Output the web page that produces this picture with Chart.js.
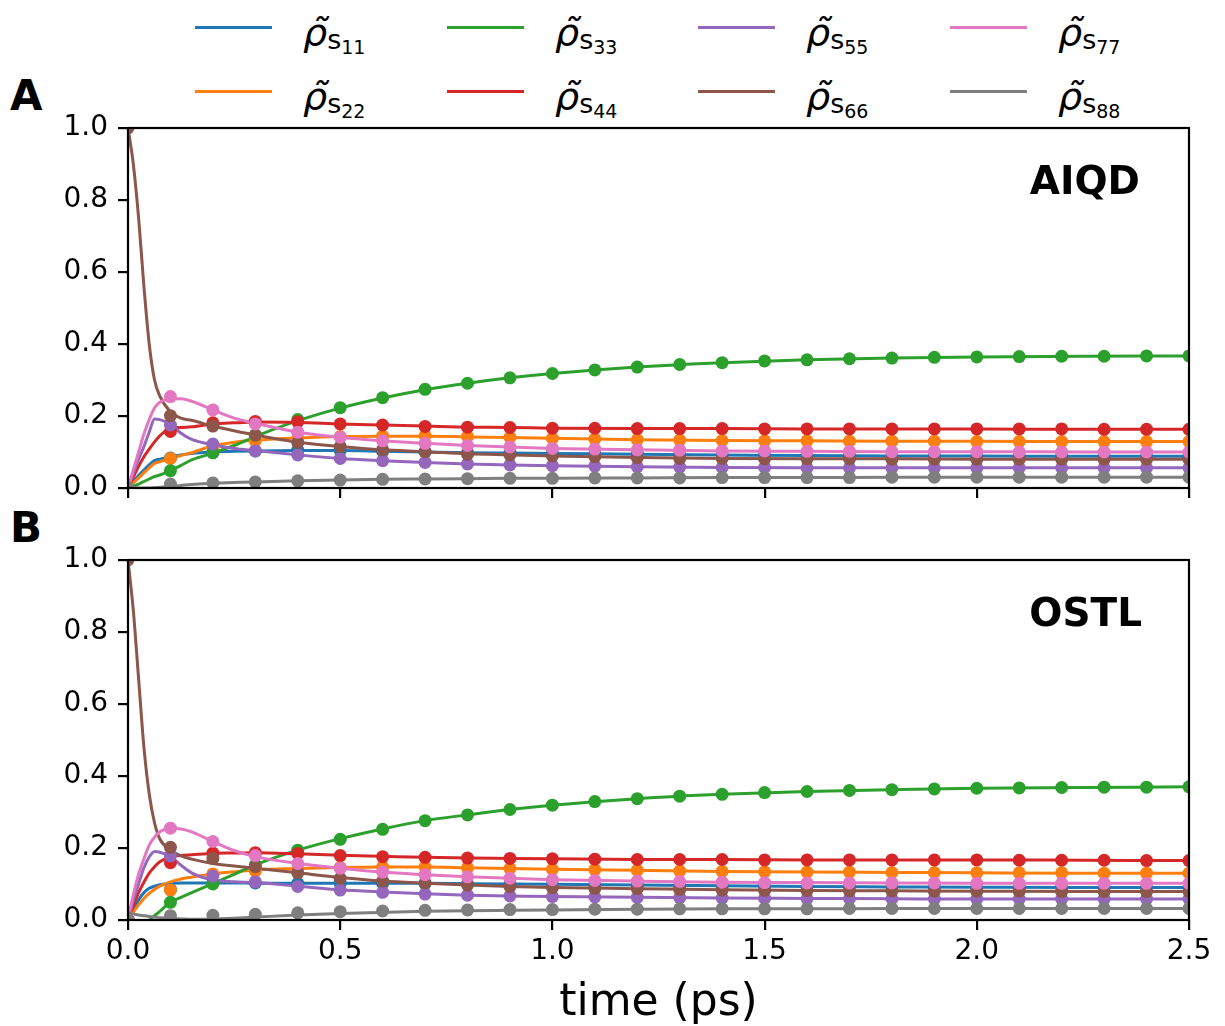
<!DOCTYPE html>
<html>
<head>
<meta charset="utf-8">
<script src="https://cdn.jsdelivr.net/npm/chart.js@4.4.0/dist/chart.umd.min.js"></script>
<style>
  body { margin: 0; background: #fff; font-family: 'DejaVu Sans', sans-serif; }
  #wrap { position: relative; width: 1225px; height: 1026px; overflow: hidden; }
  .panel { position: absolute; left: 0; }
  .letter { position: absolute; font-weight: bold; font-size: 42px; line-height: 42px; }
  .tag { position: absolute; font-weight: bold; font-size: 39px; line-height: 39px; text-align: right; }
  .leg-line { position: absolute; width: 77px; height: 3px; }
  .leg-text { position: absolute; font-size: 38px; line-height: 38px; white-space: nowrap; }
  .leg-text .rho { font-style: italic; }
  .leg-text .s { font-size: 27px; position: relative; top: 4px; }
  .leg-text .n { font-size: 19px; position: relative; top: 9px; }
</style>
</head>
<body>
<div id="wrap">
  <div id="legend"></div>
  <div class="letter" style="left:10px; top:75px;">A</div>
  <div class="letter" style="left:10px; top:507px;">B</div>
  <canvas id="chartA" class="panel" width="1225" height="400" style="top:110px;"></canvas>
  <canvas id="chartB" class="panel" width="1225" height="486" style="top:540px;"></canvas>
  <div class="tag" style="right:85px; top:161px;">AIQD</div>
  <div class="tag" style="right:83px; top:593px;">OSTL</div>
</div>
<script>
// time grids (ps)
const tDots = [0, 0.1, 0.2, 0.3, 0.4, 0.5, 0.6, 0.7, 0.8, 0.9, 1.0, 1.1, 1.2, 1.3, 1.4, 1.5, 1.6, 1.7, 1.8, 1.9, 2.0, 2.1, 2.2, 2.3, 2.4, 2.5];
const tLine = [0, 0.0125, 0.025, 0.0375, 0.05, 0.0625, 0.075, 0.1, 0.125, 0.15, 0.2, 0.25, 0.3, 0.4, 0.5, 0.6, 0.7, 0.8, 0.9, 1.0, 1.2, 1.4, 1.6, 1.8, 2.0, 2.25, 2.5];

const stateNames = ['11', '22', '33', '44', '55', '66', '77', '88'];
const stateColors = ['#1f77b4', '#ff7f0e', '#2ca02c', '#d62728', '#9467bd', '#8c564b', '#e377c2', '#7f7f7f'];
const xTicks = [0, 0.5, 1.0, 1.5, 2.0, 2.5];
const yTicks = [0, 0.2, 0.4, 0.6, 0.8, 1.0];

// panel A (AIQD) - continuous curves
const aLine11 = [0, 0.018, 0.035, 0.05, 0.064, 0.076, 0.080, 0.086, 0.092, 0.096, 0.100, 0.102, 0.103, 0.104, 0.104, 0.102, 0.100, 0.098, 0.097, 0.096, 0.094, 0.092, 0.090, 0.089, 0.089, 0.088, 0.088];
const aLine22 = [0, 0.014, 0.028, 0.042, 0.056, 0.068, 0.073, 0.082, 0.090, 0.098, 0.117, 0.127, 0.133, 0.139, 0.143, 0.144, 0.144, 0.142, 0.140, 0.138, 0.134, 0.132, 0.131, 0.130, 0.130, 0.129, 0.129];
const aLine33 = [0, 0.005, 0.011, 0.018, 0.025, 0.032, 0.036, 0.048, 0.063, 0.078, 0.097, 0.118, 0.143, 0.187, 0.222, 0.250, 0.273, 0.291, 0.306, 0.318, 0.336, 0.348, 0.356, 0.361, 0.364, 0.366, 0.367];
const aLine44 = [0, 0.03, 0.06, 0.087, 0.108, 0.128, 0.145, 0.166, 0.168, 0.170, 0.178, 0.181, 0.183, 0.182, 0.178, 0.175, 0.172, 0.169, 0.168, 0.166, 0.165, 0.165, 0.164, 0.164, 0.164, 0.163, 0.163];
const aLine55 = [0, 0.04, 0.08, 0.115, 0.155, 0.192, 0.19, 0.178, 0.152, 0.135, 0.12, 0.11, 0.104, 0.092, 0.082, 0.076, 0.071, 0.067, 0.064, 0.062, 0.059, 0.057, 0.056, 0.056, 0.056, 0.056, 0.056];
const aLine66 = [1.0, 0.9, 0.75, 0.56, 0.40, 0.30, 0.255, 0.212, 0.194, 0.188, 0.172, 0.159, 0.147, 0.127, 0.115, 0.106, 0.101, 0.095, 0.092, 0.089, 0.085, 0.082, 0.081, 0.081, 0.080, 0.080, 0.080];
const aLine77 = [0, 0.05, 0.10, 0.15, 0.19, 0.222, 0.238, 0.247, 0.248, 0.241, 0.217, 0.194, 0.18, 0.155, 0.141, 0.131, 0.124, 0.118, 0.114, 0.110, 0.106, 0.103, 0.102, 0.101, 0.101, 0.100, 0.100];
const aLine88 = [0, 0, 0, 0, 0, 0.001, 0.002, 0.004, 0.007, 0.010, 0.013, 0.015, 0.017, 0.020, 0.022, 0.024, 0.025, 0.026, 0.027, 0.027, 0.028, 0.029, 0.029, 0.030, 0.030, 0.030, 0.030];

// panel A (AIQD) - sampled points
const aDot11 = [0, 0.083, 0.098, 0.103, 0.105, 0.104, 0.102, 0.100, 0.098, 0.097, 0.096, 0.095, 0.094, 0.093, 0.092, 0.091, 0.090, 0.090, 0.089, 0.089, 0.089, 0.088, 0.088, 0.088, 0.088, 0.088];
const aDot22 = [0, 0.082, 0.115, 0.131, 0.138, 0.143, 0.144, 0.145, 0.143, 0.141, 0.138, 0.136, 0.134, 0.133, 0.132, 0.131, 0.131, 0.130, 0.130, 0.130, 0.129, 0.129, 0.129, 0.129, 0.129, 0.129];
const aDot33 = [0, 0.048, 0.098, 0.147, 0.190, 0.223, 0.251, 0.274, 0.291, 0.306, 0.318, 0.328, 0.336, 0.343, 0.348, 0.353, 0.356, 0.359, 0.361, 0.363, 0.364, 0.365, 0.366, 0.366, 0.367, 0.367];
const aDot44 = [0, 0.157, 0.181, 0.185, 0.184, 0.178, 0.175, 0.171, 0.169, 0.168, 0.166, 0.166, 0.165, 0.165, 0.165, 0.164, 0.164, 0.164, 0.164, 0.164, 0.164, 0.164, 0.164, 0.163, 0.163, 0.163];
const aDot55 = [0, 0.175, 0.122, 0.103, 0.092, 0.082, 0.076, 0.071, 0.067, 0.064, 0.062, 0.061, 0.059, 0.058, 0.057, 0.057, 0.056, 0.056, 0.056, 0.056, 0.056, 0.056, 0.056, 0.056, 0.056, 0.056];
const aDot66 = [1.0, 0.201, 0.172, 0.147, 0.126, 0.115, 0.106, 0.101, 0.094, 0.092, 0.089, 0.087, 0.084, 0.082, 0.082, 0.081, 0.081, 0.081, 0.080, 0.080, 0.080, 0.080, 0.080, 0.080, 0.080, 0.080];
const aDot77 = [0, 0.254, 0.217, 0.178, 0.155, 0.141, 0.131, 0.124, 0.118, 0.114, 0.110, 0.108, 0.106, 0.105, 0.103, 0.103, 0.102, 0.102, 0.101, 0.101, 0.101, 0.100, 0.100, 0.100, 0.100, 0.100];
const aDot88 = [0, 0.011, 0.014, 0.017, 0.020, 0.022, 0.024, 0.025, 0.026, 0.027, 0.027, 0.028, 0.028, 0.028, 0.029, 0.029, 0.029, 0.029, 0.030, 0.030, 0.030, 0.030, 0.030, 0.030, 0.030, 0.030];

// panel B (OSTL) - continuous curves
const bLine11 = [0, 0.03, 0.056, 0.076, 0.088, 0.094, 0.098, 0.102, 0.103, 0.103, 0.103, 0.103, 0.102, 0.102, 0.102, 0.102, 0.102, 0.101, 0.100, 0.099, 0.097, 0.095, 0.093, 0.092, 0.091, 0.090, 0.090];
const bLine22 = [0, 0.022, 0.042, 0.06, 0.074, 0.085, 0.094, 0.106, 0.114, 0.119, 0.128, 0.134, 0.139, 0.143, 0.146, 0.147, 0.147, 0.145, 0.143, 0.141, 0.138, 0.135, 0.133, 0.132, 0.131, 0.130, 0.130];
const bLine33 = [-0.06, -0.045, -0.03, -0.015, 0.0, 0.012, 0.024, 0.049, 0.063, 0.076, 0.101, 0.127, 0.153, 0.194, 0.226, 0.253, 0.276, 0.292, 0.307, 0.319, 0.337, 0.349, 0.357, 0.362, 0.366, 0.368, 0.370];
const bLine44 = [0, 0.04, 0.076, 0.105, 0.13, 0.148, 0.162, 0.176, 0.179, 0.181, 0.185, 0.186, 0.187, 0.184, 0.180, 0.177, 0.174, 0.172, 0.171, 0.170, 0.168, 0.168, 0.167, 0.167, 0.167, 0.166, 0.165];
const bLine55 = [0, 0.055, 0.10, 0.145, 0.175, 0.19, 0.188, 0.176, 0.152, 0.131, 0.111, 0.106, 0.104, 0.094, 0.084, 0.078, 0.073, 0.069, 0.067, 0.065, 0.063, 0.061, 0.060, 0.059, 0.058, 0.058, 0.058];
const bLine66 = [1.0, 0.86, 0.67, 0.48, 0.35, 0.27, 0.225, 0.195, 0.178, 0.169, 0.157, 0.150, 0.144, 0.131, 0.118, 0.108, 0.102, 0.097, 0.093, 0.090, 0.087, 0.084, 0.082, 0.081, 0.080, 0.079, 0.079];
const bLine77 = [0, 0.07, 0.127, 0.17, 0.208, 0.23, 0.245, 0.255, 0.253, 0.245, 0.218, 0.193, 0.176, 0.157, 0.144, 0.133, 0.126, 0.120, 0.116, 0.112, 0.108, 0.105, 0.104, 0.103, 0.102, 0.102, 0.102];
const bLine88 = [0.02, 0.017, 0.014, 0.012, 0.010, 0.008, 0.006, 0.004, 0.003, 0.002, 0.003, 0.005, 0.008, 0.014, 0.018, 0.021, 0.024, 0.026, 0.027, 0.028, 0.030, 0.031, 0.031, 0.032, 0.032, 0.032, 0.032];

// panel B (OSTL) - sampled points
const bDot11 = [0, 0.085, 0.103, 0.103, 0.102, 0.102, 0.102, 0.101, 0.100, 0.099, 0.098, 0.097, 0.096, 0.095, 0.094, 0.094, 0.093, 0.093, 0.092, 0.092, 0.091, 0.091, 0.091, 0.090, 0.090, 0.090];
const bDot22 = [0, 0.083, 0.128, 0.136, 0.142, 0.146, 0.147, 0.147, 0.145, 0.143, 0.141, 0.140, 0.138, 0.136, 0.135, 0.134, 0.133, 0.133, 0.132, 0.132, 0.131, 0.131, 0.131, 0.130, 0.130, 0.130];
const bDot33 = [0, 0.049, 0.100, 0.153, 0.194, 0.224, 0.252, 0.276, 0.292, 0.307, 0.319, 0.329, 0.337, 0.344, 0.349, 0.354, 0.357, 0.360, 0.362, 0.364, 0.366, 0.367, 0.368, 0.369, 0.369, 0.370];
const bDot44 = [0, 0.159, 0.186, 0.187, 0.185, 0.179, 0.176, 0.174, 0.172, 0.171, 0.170, 0.169, 0.168, 0.168, 0.168, 0.167, 0.167, 0.167, 0.167, 0.167, 0.167, 0.166, 0.166, 0.166, 0.165, 0.165];
const bDot55 = [0, 0.178, 0.122, 0.106, 0.093, 0.083, 0.077, 0.072, 0.069, 0.067, 0.065, 0.064, 0.063, 0.062, 0.061, 0.060, 0.059, 0.059, 0.059, 0.058, 0.058, 0.058, 0.058, 0.058, 0.058, 0.058];
const bDot66 = [1.0, 0.202, 0.171, 0.148, 0.131, 0.116, 0.108, 0.103, 0.097, 0.093, 0.090, 0.088, 0.087, 0.085, 0.083, 0.082, 0.082, 0.081, 0.081, 0.080, 0.080, 0.080, 0.079, 0.079, 0.079, 0.079];
const bDot77 = [0, 0.255, 0.218, 0.179, 0.157, 0.144, 0.133, 0.126, 0.120, 0.116, 0.112, 0.110, 0.108, 0.107, 0.105, 0.104, 0.103, 0.103, 0.103, 0.103, 0.102, 0.102, 0.102, 0.102, 0.102, 0.102];
const bDot88 = [0, 0.012, 0.013, 0.016, 0.020, 0.023, 0.025, 0.027, 0.028, 0.029, 0.029, 0.030, 0.030, 0.031, 0.031, 0.031, 0.031, 0.032, 0.032, 0.032, 0.032, 0.032, 0.032, 0.032, 0.032, 0.032];

const FONT = "'DejaVu Sans', sans-serif";

function pairs(xs, ys) {
  return xs.map((x, i) => ({ x: x, y: ys[i] }));
}

function buildDatasets(lines, dots) {
  const sets = [];
  // lines first (drawn underneath), then markers on top; later states over earlier ones
  lines.forEach((ys, i) => {
    sets.push({
      data: pairs(tLine, ys),
      borderColor: stateColors[i],
      borderWidth: 3,
      pointRadius: 0,
      cubicInterpolationMode: 'monotone',
      fill: false,
      clip: 0,
      order: 100 - i
    });
  });
  dots.forEach((ys, i) => {
    sets.push({
      data: pairs(tDots, ys),
      showLine: false,
      backgroundColor: stateColors[i],
      borderWidth: 0,
      pointRadius: 6.5,
      pointBorderWidth: 0,
      clip: 0,
      order: 50 - i
    });
  });
  return sets;
}

const framePlugin = {
  id: 'frame',
  afterDraw(chart) {
    const { ctx, chartArea: a } = chart;
    ctx.save();
    ctx.strokeStyle = '#000';
    ctx.lineWidth = 2.2;
    ctx.strokeRect(a.left, a.top, a.right - a.left, a.bottom - a.top);
    ctx.restore();
  }
};

function panelChart(canvasId, lines, dots, showX) {
  const ctx = document.getElementById(canvasId).getContext('2d');
  return new Chart(ctx, {
    type: 'line',
    data: { datasets: buildDatasets(lines, dots) },
    plugins: [framePlugin],
    options: {
      responsive: false,
      animation: false,
      devicePixelRatio: 1,
      layout: { padding: { top: showX ? 20 : 18, right: 36, left: 0, bottom: 0 } },
      plugins: { legend: { display: false }, tooltip: { enabled: false } },
      scales: {
        x: {
          type: 'linear',
          min: 0,
          max: 2.5,
          afterBuildTicks: (scale) => { scale.ticks = xTicks.map(v => ({ value: v })); },
          afterFit: (scale) => {
            scale.height = showX ? 106 : 22;
            scale.paddingLeft = 0;
            scale.paddingRight = 0;
          },
          border: { display: false },
          grid: { display: true, drawOnChartArea: false, drawTicks: true, tickLength: 10, color: '#000', lineWidth: 2.2 },
          ticks: {
            display: showX,
            padding: 5,
            color: '#000',
            font: { family: FONT, size: 28 },
            maxRotation: 0,
            callback: (v) => Number(v).toFixed(1)
          },
          title: {
            display: showX,
            text: 'time (ps)',
            color: '#000',
            font: { family: FONT, size: 44, lineHeight: 1.0 },
            padding: { top: 0, bottom: 0 }
          }
        },
        y: {
          min: 0,
          max: 1,
          afterBuildTicks: (scale) => { scale.ticks = yTicks.map(v => ({ value: v })); },
          afterFit: (scale) => {
            scale.width = 128;
            scale.paddingTop = 0;
            scale.paddingBottom = 0;
          },
          border: { display: false },
          grid: { display: true, drawOnChartArea: false, drawTicks: true, tickLength: 10, color: '#000', lineWidth: 2.2 },
          ticks: {
            padding: 10,
            color: '#000',
            font: { family: FONT, size: 28 },
            callback: (v) => Number(v).toFixed(1)
          }
        }
      }
    }
  });
}

function buildLegend() {
  const el = document.getElementById('legend');
  const colX = [195, 447, 698, 950];
  const rowY = [27, 91];
  let html = '';
  stateNames.forEach((name, i) => {
    const x = colX[Math.floor(i / 2)];
    const y = rowY[i % 2];
    html += `<div class="leg-line" style="left:${x}px; top:${y - 1.5}px; background:${stateColors[i]};"></div>`;
    html += `<div class="leg-text" style="left:${x + 108}px; top:${y - 14}px;"><span class="rho">ρ̃</span><span class="s">s</span><span class="n">${name}</span></div>`;
  });
  el.innerHTML = html;
}

buildLegend();
panelChart('chartA',
  [aLine11, aLine22, aLine33, aLine44, aLine55, aLine66, aLine77, aLine88],
  [aDot11, aDot22, aDot33, aDot44, aDot55, aDot66, aDot77, aDot88], false);
panelChart('chartB',
  [bLine11, bLine22, bLine33, bLine44, bLine55, bLine66, bLine77, bLine88],
  [bDot11, bDot22, bDot33, bDot44, bDot55, bDot66, bDot77, bDot88], true);
</script>
</body>
</html>
